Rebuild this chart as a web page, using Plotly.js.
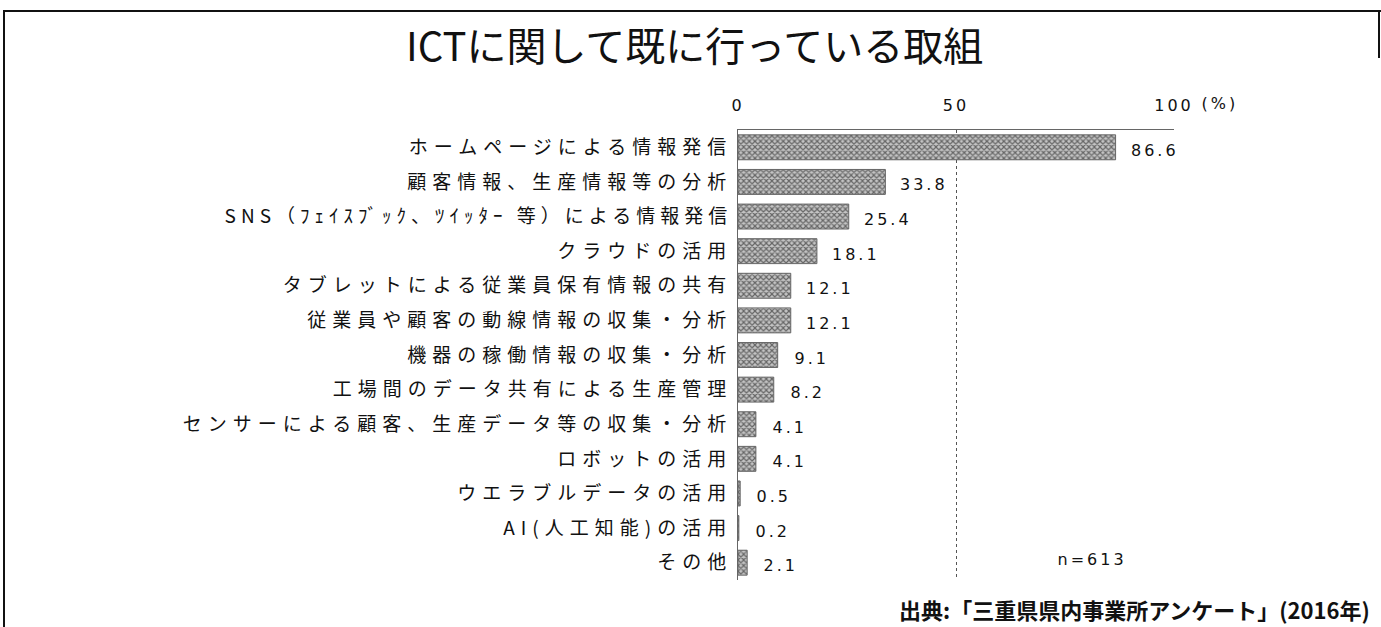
<!DOCTYPE html>
<html><head><meta charset="utf-8">
<script src="https://cdn.plot.ly/plotly-3.0.1.min.js"></script>
<style>
body{margin:0;background:#fff;}
#wrap{position:relative;width:1381px;height:627px;overflow:hidden;}
#chart{width:1381px;height:627px;}
#frame{position:absolute;left:3px;top:10px;right:-5px;bottom:-5px;border-left:2px solid #111;border-top:2px solid #111;pointer-events:none;}
#frameR{position:absolute;left:1378px;top:10px;width:2px;height:48px;background:#111;pointer-events:none;}
.ytick text{letter-spacing:6px;}
.xtick text{letter-spacing:3px;}
</style></head>
<body><div id="wrap"><div id="chart"></div><div id="frame"></div><div id="frameR"></div></div>
<script>
const categories = [
  "ホームページによる情報発信",
  "顧客情報、生産情報等の分析",
  "SNS（ﾌｪｲｽﾌﾞｯｸ、ﾂｲｯﾀｰ 等）による情報発信",
  "クラウドの活用",
  "タブレットによる従業員保有情報の共有",
  "従業員や顧客の動線情報の収集・分析",
  "機器の稼働情報の収集・分析",
  "工場間のデータ共有による生産管理",
  "センサーによる顧客、生産データ等の収集・分析",
  "ロボットの活用",
  "ウエラブルデータの活用",
  "AI(人工知能)の活用",
  "その他"
];
const values = [86.6, 33.8, 25.4, 18.1, 12.1, 12.1, 9.1, 8.2, 4.1, 4.1, 0.5, 0.2, 2.1];
const valueLabels = ["86.6","33.8","25.4","18.1","12.1","12.1","9.1","8.2","4.1","4.1","0.5","0.2","2.1"];
const xTickVals = [0, 50, 100];
const xTickText = ["0", "50", "100"];
const titleText = "ICTに関して既に行っている取組";
const unitText = "(%)";
const sampleText = "n=613";
const sourceText = "出典:「三重県県内事業所アンケート」(2016年)";

const numFont = {family: "DejaVu Sans, Verdana, sans-serif", size: 16, color: "#111"};
const jpFont = "Noto Sans CJK JP, sans-serif";

const trace = {
  type: "bar",
  orientation: "h",
  x: values,
  y: categories,
  width: 0.72,
  marker: {
    color: "#b0b0b0",
    line: {color: "#666", width: 1},
    pattern: {shape: "x", size: 4, solidity: 0.5, fgcolor: "#666", bgcolor: "#c4c4c4"}
  },
  hoverinfo: "skip"
};

const annotations = values.map((v, i) => ({
  x: v, y: categories[i], xref: "x", yref: "y",
  text: valueLabels[i], showarrow: false,
  xanchor: "left", yanchor: "middle", xshift: 19, yshift: -3,
  font: numFont, name: "val"
}));
annotations.push({
  x: 100, y: 1, xref: "x", yref: "paper", text: unitText, showarrow: false,
  xanchor: "left", yanchor: "bottom", xshift: 30, yshift: 15, font: numFont, name: "val"
});
annotations.push({
  x: 0.812, y: 0.045, xref: "paper", yref: "paper", text: sampleText, showarrow: false,
  xanchor: "center", yanchor: "middle", font: numFont, name: "val"
});
annotations.push({
  x: 1.454, y: -0.064, xref: "paper", yref: "paper", text: sourceText, showarrow: false,
  xanchor: "right", yanchor: "middle",
  font: {family: jpFont, size: 22, color: "#111", weight: "bold"}
});

const layout = {
  width: 1381, height: 627,
  margin: {l: 738, r: 207, t: 130, b: 47},
  paper_bgcolor: "#fff", plot_bgcolor: "#fff",
  showlegend: false,
  title: {
    text: titleText, x: 0.503, xanchor: "center", xref: "container",
    y: 1 - 47/627, yanchor: "middle", yref: "container",
    font: {family: jpFont, size: 40, color: "#111", weight: "normal"}
  },
  xaxis: {
    range: [0, 100], side: "top",
    tickvals: xTickVals, ticktext: xTickText,
    ticks: "", ticklabelstandoff: 12,
    tickfont: numFont,
    showgrid: true, gridcolor: "#555", gridwidth: 1, griddash: "dot",
    showline: true, linecolor: "#666", linewidth: 1,
    zeroline: false, fixedrange: true
  },
  yaxis: {
    autorange: "reversed",
    ticks: "", ticklabelstandoff: 1,
    tickfont: {family: jpFont, size: 19, color: "#111"},
    showline: true, linecolor: "#666", linewidth: 1,
    showgrid: false, zeroline: false, fixedrange: true
  },
  annotations: annotations
};

Plotly.newPlot("chart", [trace], layout, {displayModeBar: false, staticPlot: true}).then(gd => {
  const anns = gd.querySelectorAll(".annotation");
  anns.forEach((a, i) => {
    const spec = layout.annotations[i];
    if (spec && spec.name === "val") {
      a.querySelectorAll("text").forEach(t => t.style.letterSpacing = "3px");
    }
  });
  gd.querySelectorAll(".ytick text").forEach(t => {
    if (t.textContent.indexOf("SNS") === 0) t.style.letterSpacing = "5px";
  });
});
</script>
</body></html>
